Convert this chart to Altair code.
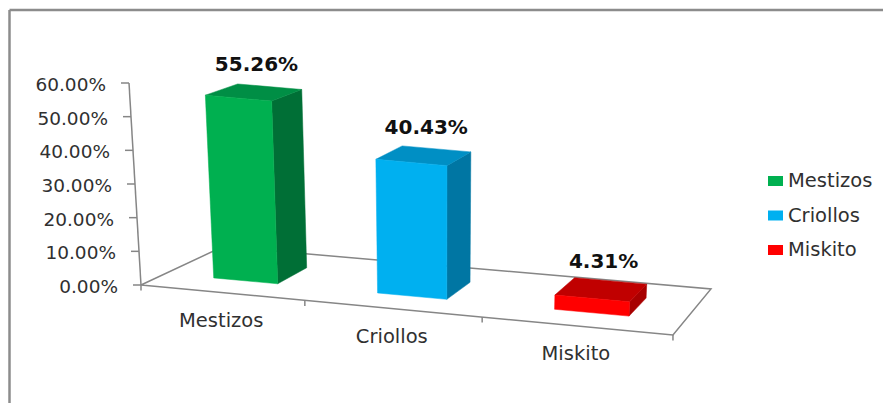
import altair as alt
import pandas as pd

categories = ["Mestizos", "Criollos", "Miskito"]
values = [55.26, 40.43, 4.31]
value_labels = ["55.26%", "40.43%", "4.31%"]
axis_ticks = [0, 10, 20, 30, 40, 50, 60]
tick_labels = ["0.00%", "10.00%", "20.00%", "30.00%", "40.00%", "50.00%", "60.00%"]
front_colors = ["#00B050", "#00B0F0", "#FF0000"]
top_colors = ["#008E45", "#008FC4", "#C00000"]
side_colors = ["#006F36", "#0076A3", "#A80000"]

AXIS = "#868686"
FONT = "DejaVu Sans"
TEXT = "#303030"

# oblique projection of the 3-D chart box: category position u (0..3), depth d (0..1), value v
FL, FR, BR, BL = (141, 285), (673, 335), (711, 289), (223, 246.6)


def project(u, d, v):
    s = 0.2953 * u + 0.01267 * u * u
    fx = FL[0] + (FR[0] - FL[0]) * s
    fy = FL[1] + (FR[1] - FL[1]) * s
    bx = BL[0] + (BR[0] - BL[0]) * s
    by = BL[1] + (BR[1] - BL[1]) * s
    x = fx + (bx - fx) * d
    y = fy + (by - fy) * d
    lean = -12 + 0.04 * (x - FL[0])
    return x + lean * v / 60, y - (202 - 12 * d) * v / 60


# bars
bar_rows = []
for i, (cat, val) in enumerate(zip(categories, values)):
    u0, u1, d0, d1 = i + 0.31, i + 0.71, 0.3, 0.7
    a = project(u0, d0, 0)
    b = project(u1, d0, 0)
    c = project(u1, d1, 0)
    e = project(u0, d0, val)
    f = project(u1, d0, val)
    g = project(u1, d1, val)
    h = project(u0, d1, val)
    faces = [("side", [b, c, g, f, b], side_colors[i]),
             ("top", [e, f, g, h, e], top_colors[i]),
             ("front", [a, b, f, e, a], front_colors[i])]
    for fname, pts, col in faces:
        for k, (x, y) in enumerate(pts):
            bar_rows.append({"poly": f"{i}-{fname}", "seq": k, "x": x, "y": y, "col": col})
bars_df = pd.DataFrame(bar_rows)

xs = alt.Scale(domain=[8, 883], nice=False, zero=False)
ys = alt.Scale(domain=[403, 8], nice=False, zero=False)
X = alt.X("x:Q", scale=xs, axis=None)
Y = alt.Y("y:Q", scale=ys, axis=None)

# frame / axis lines
line_rows = []


def add_line(name, pts, width, color):
    for k, (x, y) in enumerate(pts):
        line_rows.append({"name": name, "seq": k, "x": x, "y": y, "w": width, "c": color})


add_line("frameL", [(9.5, 10), (9.5, 403)], 2.5, "#8C8C8C")
add_line("frameT", [(9.5, 10), (883, 10)], 2.5, "#8C8C8C")
add_line("floor", [project(0, 0, 0), project(3, 0, 0), project(3, 1, 0), project(0, 1, 0), project(0, 0, 0)], 1.5, AXIS)
add_line("yaxis", [project(0, 0, 0), project(0, 0, 60)], 1.5, AXIS)
for t in axis_ticks:
    px, py = project(0, 0, t)
    add_line(f"yt{t}", [(px - 8, py), (px, py)], 1.5, AXIS)
for u in range(4):
    px, py = project(u, 0, 0)
    add_line(f"xt{u}", [(px, py), (px, py + 5.5)], 1.5, AXIS)
lines_df = pd.DataFrame(line_rows)

lines = alt.Chart(lines_df).mark_line().encode(
    x=X, y=Y, detail="name:N", order=alt.Order("seq:Q"),
    stroke=alt.Stroke("c:N", scale=None),
    strokeWidth=alt.StrokeWidth("w:Q", scale=None),
)

bars = alt.Chart(bars_df).mark_line(strokeWidth=0.5).encode(
    x=X, y=Y, detail="poly:N", order=alt.Order("seq:Q"),
    fill=alt.Fill("col:N", scale=None),
    stroke=alt.Stroke("col:N", scale=None),
)

# tick labels
tick_df = pd.DataFrame([
    {"x": project(0, 0, t)[0] - 23, "y": project(0, 0, t)[1] + 2, "t": l}
    for t, l in zip(axis_ticks, tick_labels)
])
tick_text = alt.Chart(tick_df).mark_text(align="right", baseline="middle", font=FONT, fontSize=18.5, color=TEXT).encode(
    x=X, y=Y, text="t:N")

cat_df = pd.DataFrame([
    {"x": project(i + 0.5, 0, 0)[0], "y": project(i + 0.5, 0, 0)[1] + 28, "t": c}
    for i, c in enumerate(categories)
])
cat_text = alt.Chart(cat_df).mark_text(align="center", baseline="middle", font=FONT, fontSize=19.5, color=TEXT).encode(
    x=X, y=Y, text="t:N")

val_rows = []
for i, (val, lab) in enumerate(zip(values, value_labels)):
    pts = [project(i + 0.3, 0.3, val), project(i + 0.7, 0.3, val), project(i + 0.7, 0.7, val), project(i + 0.3, 0.7, val)]
    val_rows.append({"x": sum(p[0] for p in pts) / 4 + 4, "y": sum(p[1] for p in pts) / 4 - 27.5, "t": lab})
val_text = alt.Chart(pd.DataFrame(val_rows)).mark_text(
    align="center", baseline="middle", font=FONT, fontSize=20, fontWeight="bold", color="#111111"
).encode(x=X, y=Y, text="t:N")

# legend
leg_rows = []
for i, (c, col) in enumerate(zip(categories, front_colors)):
    cy = 181 + i * 34.5
    leg_rows.append({"x": 768, "x2": 783, "y": cy - 5, "y2": cy + 5, "ty": cy, "tx": 788, "t": c, "col": col})
leg_df = pd.DataFrame(leg_rows)
leg_sw = alt.Chart(leg_df).mark_rect().encode(
    x=X, x2="x2:Q", y=Y, y2="y2:Q", fill=alt.Fill("col:N", scale=None))
leg_text = alt.Chart(leg_df).mark_text(align="left", baseline="middle", font=FONT, fontSize=19.5, color=TEXT).encode(
    x=alt.X("tx:Q", scale=xs, axis=None), y=alt.Y("ty:Q", scale=ys, axis=None), text="t:N")

chart = alt.layer(lines, bars, tick_text, cat_text, val_text, leg_sw, leg_text).properties(
    width=875, height=395, padding=0, autosize=alt.AutoSizeParams(type="none"),
).configure_view(stroke=None)

chart.save("out.html", embed_options={"renderer": "svg", "actions": False})
